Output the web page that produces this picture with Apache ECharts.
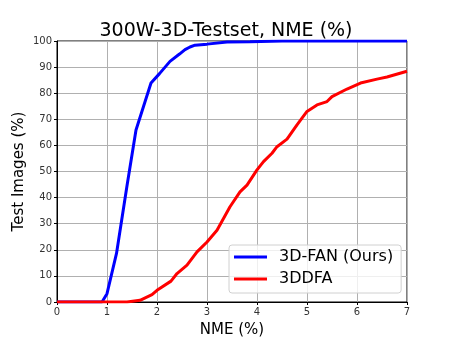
<!DOCTYPE html>
<html>
<head>
<meta charset="utf-8">
<script src="https://cdn.jsdelivr.net/npm/echarts@6/dist/echarts.min.js"></script>
<style>
  html, body { margin: 0; padding: 0; background: #fff; }
  #chart { width: 452px; height: 339px; }
</style>
</head>
<body>
<div id="chart"></div>
<script>
// 3D-FAN (Ours) curve
const fanX = [0, 0.9, 1.0, 1.19, 1.4, 1.58, 1.88, 2.05, 2.26, 2.45, 2.56, 2.66, 2.76, 3.0, 3.4, 3.86, 4.5, 7];
const fanY = [0, 0, 3.2, 18.6, 44.5, 65.9, 83.9, 87.5, 92.2, 95, 96.7, 97.7, 98.4, 98.8, 99.6, 99.7, 100, 100];

// 3DDFA curve
const ddfaX = [0, 1.4, 1.66, 1.9, 2.0, 2.28, 2.4, 2.6, 2.8, 3.0, 3.2, 3.46, 3.66, 3.8, 4.0, 4.13, 4.3, 4.4, 4.6, 4.8, 5.0, 5.2, 5.4, 5.5, 5.8, 6.07, 6.4, 6.6, 7.0];
const ddfaY = [0, 0, 0.65, 2.8, 4.5, 8, 10.9, 14.1, 19.2, 23, 27.5, 36.5, 42.2, 44.8, 50.6, 53.8, 57, 59.5, 62.4, 67.9, 73, 75.5, 76.8, 78.7, 81.6, 83.9, 85.4, 86.2, 88.4];

const seriesNames = ['3D-FAN (Ours)', '3DDFA'];

const font = 'DejaVu Sans';

function pairs(xs, ys) {
  return xs.map((x, i) => [x, ys[i]]);
}

const chart = echarts.init(document.getElementById('chart'));

chart.setOption({
  animation: false,
  title: {
    text: '300W-3D-Testset, NME (%)',
    left: 'center',
    top: 17,
    textStyle: { fontFamily: font, fontSize: 19, fontWeight: 'normal', color: '#000' },
  },
  grid: {
    left: 57,
    right: 45,
    top: 41,
    bottom: 37,
    outerBoundsMode: 'none',
    containLabel: false,
    show: true,
    borderColor: '#000',
    borderWidth: 1,
  },
  legend: {
    data: seriesNames,
    orient: 'vertical',
    left: 229,
    top: 245,
    padding: [3, 8, 5, 5],
    itemGap: 4,
    icon: 'rect',
    itemWidth: 33,
    itemHeight: 3,
    backgroundColor: 'rgba(255,255,255,0.8)',
    borderColor: '#d0d0d0',
    borderWidth: 1,
    borderRadius: 3,
    textStyle: { fontFamily: font, fontSize: 16, color: '#000', lineHeight: 18, padding: [0, 0, 0, 7] },
  },
  xAxis: {
    type: 'value',
    min: 0,
    max: 7,
    interval: 1,
    name: 'NME (%)',
    nameLocation: 'middle',
    nameGap: 21,
    nameMoveOverlap: false,
    nameTextStyle: { fontFamily: font, fontSize: 15, color: '#000' },
    axisLine: { lineStyle: { color: '#000' } },
    axisTick: { show: true, length: 3, lineStyle: { color: '#000' } },
    axisLabel: { fontFamily: font, fontSize: 10, color: '#333', margin: 5 },
    splitLine: { show: true, lineStyle: { color: '#b0b0b0', width: 1 } },
  },
  yAxis: {
    type: 'value',
    min: 0,
    max: 100,
    interval: 10,
    name: 'Test Images (%)',
    nameLocation: 'middle',
    nameGap: 30,
    nameMoveOverlap: false,
    nameTextStyle: { fontFamily: font, fontSize: 15, color: '#000' },
    axisLine: { show: true, lineStyle: { color: '#000' } },
    axisTick: { show: true, length: 3, lineStyle: { color: '#000' } },
    axisLabel: { fontFamily: font, fontSize: 10, color: '#333', margin: 5 },
    splitLine: { show: true, lineStyle: { color: '#b0b0b0', width: 1 } },
  },
  series: [
    {
      name: seriesNames[0],
      type: 'line',
      data: pairs(fanX, fanY),
      showSymbol: false,
      itemStyle: { color: '#0000ff' },
      lineStyle: { color: '#0000ff', width: 3 },
      z: 3,
    },
    {
      name: seriesNames[1],
      type: 'line',
      data: pairs(ddfaX, ddfaY),
      showSymbol: false,
      itemStyle: { color: '#ff0000' },
      lineStyle: { color: '#ff0000', width: 3 },
      z: 3,
    },
  ],
});
</script>
</body>
</html>
